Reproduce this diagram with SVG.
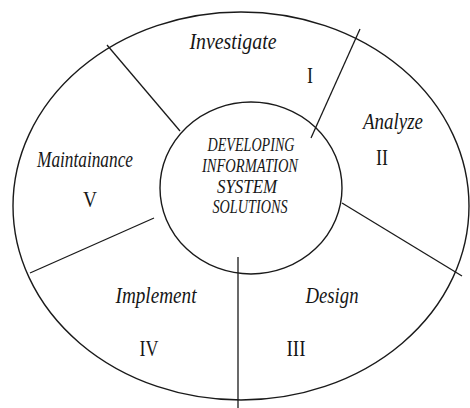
<svg xmlns="http://www.w3.org/2000/svg" width="470" height="408" viewBox="0 0 470 408">
  <style>
    .ring { fill: none; stroke: #1a1a1a; stroke-width: 1.4; }
    .spoke { stroke: #1a1a1a; stroke-width: 1.3; fill: none; }
    .label { font-family: "Liberation Serif", "Times New Roman", serif; font-style: italic; font-size: 24px; fill: #161616; }
    .num { font-family: "Liberation Serif", "Times New Roman", serif; font-size: 23px; fill: #161616; }
    .core { font-family: "Liberation Serif", "Times New Roman", serif; font-style: italic; font-size: 18.5px; fill: #161616; }
  </style>
  <rect width="470" height="408" fill="#ffffff"/>

  <!-- outer cycle -->
  <ellipse class="ring" cx="241" cy="206" rx="228" ry="194"/>

  <g id="connectors">
    <line class="spoke" x1="107" y1="45" x2="180" y2="131"/>
    <line class="spoke" x1="360" y1="29" x2="311" y2="138"/>
    <line class="spoke" x1="342" y1="203" x2="462" y2="276"/>
    <line class="spoke" x1="154" y1="218" x2="30" y2="273"/>
    <line class="spoke" x1="238" y1="257" x2="238" y2="408"/>
  </g>

  <g id="hub">
    <ellipse class="ring" cx="251" cy="188" rx="91" ry="86" fill="#ffffff"/>
    <text class="core" x="251" y="151" text-anchor="middle" textLength="87" lengthAdjust="spacingAndGlyphs">DEVELOPING</text>
    <text class="core" x="250" y="172" text-anchor="middle" textLength="96" lengthAdjust="spacingAndGlyphs">INFORMATION</text>
    <text class="core" x="247" y="193" text-anchor="middle" textLength="60" lengthAdjust="spacingAndGlyphs">SYSTEM</text>
    <text class="core" x="250" y="213" text-anchor="middle" textLength="75" lengthAdjust="spacingAndGlyphs">SOLUTIONS</text>
  </g>

  <g id="investigate">
    <text class="label" x="233" y="49" text-anchor="middle" textLength="87" lengthAdjust="spacingAndGlyphs">Investigate</text>
    <text class="num" x="310" y="83" text-anchor="middle" textLength="6" lengthAdjust="spacingAndGlyphs">I</text>
  </g>

  <g id="analyze">
    <text class="label" x="393" y="129" text-anchor="middle" textLength="60" lengthAdjust="spacingAndGlyphs">Analyze</text>
    <text class="num" x="382" y="165" text-anchor="middle" textLength="12" lengthAdjust="spacingAndGlyphs">II</text>
  </g>

  <g id="design">
    <text class="label" x="332" y="303" text-anchor="middle" textLength="53" lengthAdjust="spacingAndGlyphs">Design</text>
    <text class="num" x="296" y="356" text-anchor="middle" textLength="19" lengthAdjust="spacingAndGlyphs">III</text>
  </g>

  <g id="implement">
    <text class="label" x="156" y="303" text-anchor="middle" textLength="81" lengthAdjust="spacingAndGlyphs">Implement</text>
    <text class="num" x="149" y="356" text-anchor="middle" textLength="19" lengthAdjust="spacingAndGlyphs">IV</text>
  </g>

  <g id="maintainance">
    <text class="label" x="85" y="167" text-anchor="middle" textLength="96" lengthAdjust="spacingAndGlyphs">Maintainance</text>
    <text class="num" x="90" y="207" text-anchor="middle" textLength="14" lengthAdjust="spacingAndGlyphs">V</text>
  </g>
</svg>
